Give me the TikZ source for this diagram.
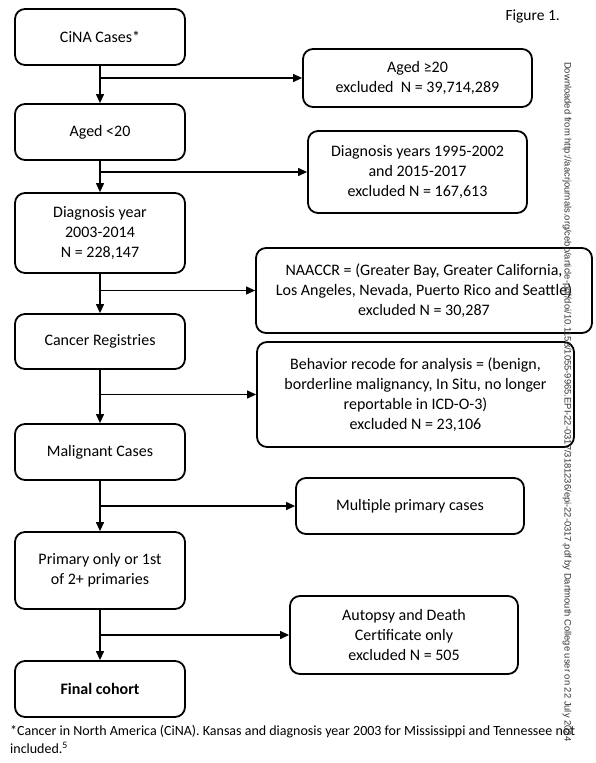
\documentclass[tikz,border=0pt]{standalone}
\usepackage{fontspec}
\setmainfont{Carlito}
\newfontfamily\wmfont{Liberation Sans}
\usetikzlibrary{arrows.meta}
\tikzset{
  box/.style={draw, line width=1.8pt, rounded corners=10pt, align=center, inner sep=2pt,
    font=\fontsize{16}{20}\selectfont},
  conn/.style={line width=1.2pt, -{Triangle[length=9pt,width=8pt]}},
}
\begin{document}
\begin{tikzpicture}[x=1pt,y=-1pt]
\useasboundingbox[fill=white] (0,0) rectangle (596,763);
% left column
\node[box, minimum width=170pt, minimum height=56pt] (cina) at (100,37) {CiNA Cases*};
\node[box, minimum width=170pt, minimum height=56pt] (aged) at (100,132) {Aged <20};
\node[box, minimum width=170pt, minimum height=80pt] (diag) at (100,233) {Diagnosis year\\2003-2014\\N = 228,147};
\node[box, minimum width=170pt, minimum height=55pt] (reg) at (100,341.5) {Cancer Registries};
\node[box, minimum width=170pt, minimum height=56pt] (mal) at (100,452) {Malignant Cases};
\node[box, minimum width=170pt, minimum height=77pt] (prim) at (100,570.5) {Primary only or 1st\\of 2+ primaries};
\node[box, minimum width=170pt, minimum height=56pt] (fin) at (100,689) {\bfseries Final cohort};
% right column
\node[box, minimum width=229pt, minimum height=58pt] (ag20) at (417.5,78) {Aged ≥20\\excluded\ \ N = 39,714,289};
\node[box, minimum width=219pt, minimum height=82pt] (dy) at (417.5,172) {Diagnosis years 1995-2002\\and 2015-2017\\excluded N = 167,613};
\node[box, minimum width=336pt, minimum height=85pt] (naa) at (424,290.5) {NAACCR = (Greater Bay, Greater California,\\Los Angeles, Nevada, Puerto Rico and Seattle)\\excluded N = 30,287};
\node[box, minimum width=317pt, minimum height=105pt] (beh) at (415.5,394.5) {Behavior recode for analysis = (benign,\\borderline malignancy, In Situ, no longer\\reportable in ICD-O-3)\\excluded N = 23,106};
\node[box, minimum width=228pt, minimum height=56pt] (mult) at (410,506) {Multiple primary cases};
\node[box, minimum width=228pt, minimum height=78pt] (aut) at (404,635) {Autopsy and Death\\Certificate only\\excluded N = 505};
% connectors
\draw[conn] (cina) -- (aged);
\draw[conn] (aged) -- (diag);
\draw[conn] (diag) -- (reg);
\draw[conn] (reg) -- (mal);
\draw[conn] (mal) -- (prim);
\draw[conn] (prim) -- (fin);
\coordinate (b1) at (cina.south |- ag20.west);
\coordinate (b2) at (aged.south |- dy.west);
\coordinate (b3) at (diag.south |- naa.west);
\coordinate (b4) at (reg.south |- beh.west);
\coordinate (b5) at (mal.south |- mult.west);
\coordinate (b6) at (prim.south |- aut.west);
\draw[conn] (b1) -- (ag20.west);
\draw[conn] (b2) -- (dy.west);
\draw[conn] (b3) -- (naa.west);
\draw[conn] (b4) -- (beh.west);
\draw[conn] (b5) -- (mult.west);
\draw[conn] (b6) -- (aut.west);
% texts
\node[anchor=base east, font=\fontsize{15.5}{18}\selectfont, inner sep=0pt] (fig) at (560,20) {Figure 1.};
\node[anchor=north west, align=left, inner sep=0pt, font=\fontsize{14}{18}\selectfont] (foot) at (10,725)
  {*Cancer in North America (CiNA). Kansas and diagnosis year 2003 for Mississippi and Tennessee not\\included.\textsuperscript{5}};
\node[rotate=-90, anchor=west, inner sep=0pt, text=black!80, font=\wmfont\fontsize{9.4}{10}\selectfont] (wm) at (567,62)
  {Downloaded from http://aacrjournals.org/cebp/article-pdf/doi/10.1158/1055-9965.EPI-22-0317/3181236/epi-22-0317.pdf by Dartmouth College user on 22 July 2024};
\end{tikzpicture}
\end{document}
